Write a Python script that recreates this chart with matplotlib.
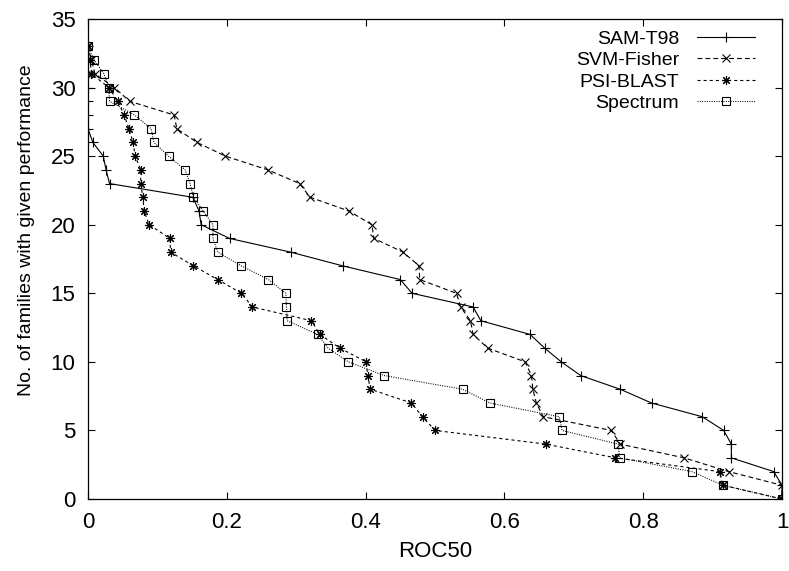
import matplotlib
matplotlib.use("Agg")
import matplotlib.pyplot as plt

plt.rcParams['font.family'] = ['Liberation Sans', 'DejaVu Sans']
plt.rcParams['lines.scale_dashes'] = False

# Number of families (y) reaching a given ROC50 (x)
sam_y = [33, 32, 31, 30, 29, 28, 27, 26, 25, 24, 23, 22, 21, 20, 19, 18, 17,
         16, 15, 14, 13, 12, 11, 10, 9, 8, 7, 6, 5, 4, 3, 2, 1, 0]
sam_x = [0.0, 0.0, 0.0, 0.0, 0.0, 0.0, 0.0, 0.007, 0.022, 0.026, 0.031, 0.151,
         0.160, 0.163, 0.204, 0.292, 0.367, 0.450, 0.467, 0.555, 0.566, 0.637,
         0.658, 0.682, 0.710, 0.767, 0.812, 0.885, 0.916, 0.927, 0.927, 0.988,
         1.0, 1.0]

svm_y = [33, 32, 31, 30, 29, 28, 27, 26, 25, 24, 23, 22, 21, 20, 19, 18, 17,
         16, 15, 14, 13, 12, 11, 10, 9, 8, 7, 6, 5, 4, 3, 2, 1, 0]
svm_x = [0.0, 0.005, 0.010, 0.038, 0.060, 0.124, 0.128, 0.157, 0.198, 0.259,
         0.305, 0.320, 0.376, 0.409, 0.412, 0.454, 0.477, 0.478, 0.531, 0.537,
         0.551, 0.555, 0.576, 0.630, 0.639, 0.641, 0.646, 0.656, 0.754, 0.767,
         0.859, 0.923, 1.0, 1.0]

psi_y = [33, 32, 31, 30, 29, 28, 27, 26, 25, 24, 23, 22, 21, 20, 19, 18, 17,
         16, 15, 14, 13, 12, 11, 10, 9, 8, 7, 6, 5, 4, 3, 2, 1, 0]
psi_x = [0.0, 0.003, 0.005, 0.030, 0.043, 0.052, 0.059, 0.065, 0.068, 0.076,
         0.076, 0.079, 0.081, 0.088, 0.118, 0.119, 0.152, 0.187, 0.221, 0.237,
         0.322, 0.334, 0.363, 0.401, 0.403, 0.407, 0.466, 0.482, 0.500, 0.660,
         0.760, 0.910, 0.915, 1.0]

spec_y = [33, 32, 31, 30, 29, 28, 27, 26, 25, 24, 23, 22, 21, 20, 19, 18, 17,
          16, 15, 14, 13, 12, 11, 10, 9, 8, 7, 6, 5, 4, 3, 2, 1, 0]
spec_x = [0.0, 0.009, 0.023, 0.030, 0.031, 0.067, 0.091, 0.095, 0.116, 0.140,
          0.147, 0.152, 0.166, 0.180, 0.180, 0.187, 0.221, 0.260, 0.285, 0.286,
          0.287, 0.331, 0.346, 0.375, 0.427, 0.540, 0.579, 0.679, 0.683, 0.764,
          0.766, 0.870, 0.915, 1.0]

labels = ["SAM-T98", "SVM-Fisher", "PSI-BLAST", "Spectrum"]
xticks = [0, 0.2, 0.4, 0.6, 0.8, 1.0]
xticklabels = ["0", "0.2", "0.4", "0.6", "0.8", "1"]
yticks = [0, 5, 10, 15, 20, 25, 30, 35]

TICK_FS = 16
XLAB_FS = 16
YLAB_FS = 14
LEG_FS = 14

fig = plt.figure(figsize=(7.89, 5.71), dpi=100)
ax = fig.add_axes([88/789, 72/571, 694/789, 480/571])

lw = 0.8
ax.plot(sam_x, sam_y, color='black', lw=lw, linestyle='-',
        marker='+', markersize=6.5, markeredgewidth=0.8, label=labels[0])
ax.plot(svm_x, svm_y, color='black', lw=lw, linestyle=(0, (3.5, 2.2)),
        marker='x', markersize=5.5, markeredgewidth=0.8, label=labels[1])
ax.plot(psi_x, psi_y, color='black', lw=lw, linestyle=(0, (2.2, 2.2)),
        marker=(8, 2, 0), markersize=6.5, markeredgewidth=0.8, label=labels[2])
ax.plot(spec_x, spec_y, color='black', lw=lw, linestyle=(0, (0.7, 1.0)),
        marker='s', markersize=5.2, markeredgewidth=0.8, fillstyle='none',
        label=labels[3])

ax.set_xlim(0, 1)
ax.set_ylim(0, 35)
ax.set_xticks(xticks)
ax.set_xticklabels(xticklabels)
ax.set_yticks(yticks)
ax.tick_params(direction='in', length=5, width=0.8, top=True, right=True,
               labelsize=TICK_FS, pad=9, colors='black')
for s in ax.spines.values():
    s.set_linewidth(0.9)

ax.set_xlabel("ROC50", fontsize=XLAB_FS, labelpad=6)
ax.set_ylabel("No. of families with given performance", fontsize=YLAB_FS,
              labelpad=11)
ax.yaxis.label.set_y(0.56)

leg = ax.legend(loc='upper right', bbox_to_anchor=(0.961, 0.977),
                frameon=False, markerfirst=False, fontsize=LEG_FS,
                handlelength=3.0, handletextpad=0.9, labelspacing=0.2,
                borderpad=0, borderaxespad=0)

fig.savefig("out.png", dpi=100)
